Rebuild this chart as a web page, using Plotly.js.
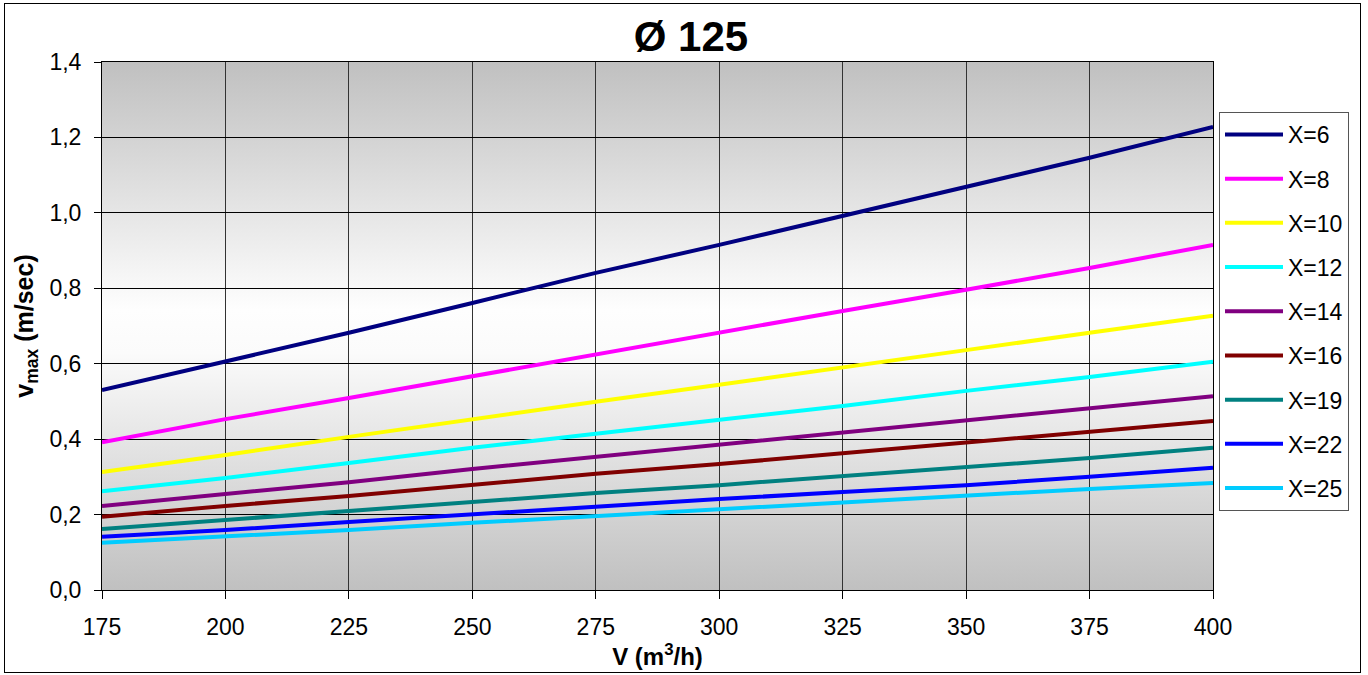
<!DOCTYPE html>
<html>
<head>
<meta charset="utf-8">
<script src="https://cdn.plot.ly/plotly-3.0.1.min.js"></script>
<style>
html,body{margin:0;padding:0;background:#fff;}
#wrap{position:relative;width:1368px;height:675px;}
#chart{width:1368px;height:675px;}
#frame{position:absolute;left:4px;top:3px;width:1355px;height:668px;border:1px solid #000;pointer-events:none;}
</style>
</head>
<body>
<div id="wrap"><div id="chart"></div><div id="frame"></div></div>
<script>
// Data
const flowV = [175, 200, 225, 250, 275, 300, 325, 350, 375, 400];
const seriesNames = ["X=6", "X=8", "X=10", "X=12", "X=14", "X=16", "X=19", "X=22", "X=25"];
const vX6  = [0.530, 0.605, 0.682, 0.761, 0.841, 0.915, 0.992, 1.071, 1.146, 1.228];
const vX8  = [0.392, 0.453, 0.509, 0.567, 0.623, 0.681, 0.740, 0.796, 0.854, 0.915];
const vX10 = [0.313, 0.358, 0.406, 0.453, 0.499, 0.544, 0.589, 0.636, 0.682, 0.727];
const vX12 = [0.262, 0.297, 0.337, 0.377, 0.414, 0.451, 0.488, 0.528, 0.565, 0.605];
const vX14 = [0.223, 0.255, 0.286, 0.321, 0.353, 0.385, 0.416, 0.448, 0.480, 0.514];
const vX16 = [0.194, 0.223, 0.249, 0.278, 0.308, 0.334, 0.363, 0.390, 0.419, 0.448];
const vX19 = [0.162, 0.186, 0.209, 0.233, 0.257, 0.278, 0.302, 0.326, 0.350, 0.377];
const vX22 = [0.141, 0.159, 0.180, 0.201, 0.220, 0.241, 0.260, 0.278, 0.300, 0.324];
const vX25 = [0.125, 0.141, 0.159, 0.178, 0.196, 0.215, 0.231, 0.249, 0.268, 0.284];
const seriesValues = [vX6, vX8, vX10, vX12, vX14, vX16, vX19, vX22, vX25];
const seriesColors = ["#000080", "#ff00ff", "#ffff00", "#00ffff", "#800080", "#800000", "#008080", "#0000ff", "#00ccff"];

const FONT = "Liberation Sans, Arial, sans-serif";

const traces = seriesNames.map((n, i) => ({
  type: "scatter", mode: "lines", name: n, x: flowV, y: seriesValues[i],
  line: {color: seriesColors[i], width: 4}, legendgroup: "g" + i, hoverinfo: "x+y+name"
}));

// background gradient (grey - white - grey)
const gradSvg = '<svg xmlns="http://www.w3.org/2000/svg" width="10" height="100" preserveAspectRatio="none">' +
  '<defs><linearGradient id="g" x1="0" y1="0" x2="0" y2="1">' +
  '<stop offset="0" stop-color="#c0c0c0"/><stop offset="0.47" stop-color="#fefefe"/>' +
  '<stop offset="0.55" stop-color="#fbfbfb"/><stop offset="1" stop-color="#c0c0c0"/>' +
  '</linearGradient></defs><rect width="10" height="100" fill="url(#g)"/></svg>';
const gradUri = "data:image/svg+xml;base64," + btoa(gradSvg);

const layout = {
  width: 1368, height: 675,
  margin: {l: 102, r: 155, t: 62, b: 85},
  paper_bgcolor: "#ffffff", plot_bgcolor: "rgba(0,0,0,0)",
  separators: ",.",
  font: {family: FONT, size: 23, color: "#000"},
  title: {text: "<b>Ø 125</b>", font: {family: FONT, size: 42, color: "#000"},
          x: 691/1368, xref: "container", xanchor: "center", y: 1 - 36/675, yref: "container", yanchor: "middle"},
  xaxis: {
    range: [175, 400], tickvals: flowV, ticktext: flowV.map(String),
    showgrid: true, gridcolor: "#333333", gridwidth: 1,
    showline: true, linecolor: "#000", linewidth: 1, mirror: true,
    ticks: "outside", ticklen: 8, tickcolor: "#000", zeroline: false,
    tickfont: {family: FONT, size: 23}, ticklabelstandoff: 8,
    title: {text: "<b>V (m<sup>3</sup>/h)</b>", font: {family: FONT, size: 24}, standoff: 2}
  },
  yaxis: {
    range: [0, 1.4], dtick: 0.2, tick0: 0, tickformat: ".1f",
    showgrid: true, gridcolor: "#000", gridwidth: 1,
    showline: true, linecolor: "#000", linewidth: 1, mirror: true,
    ticks: "outside", ticklen: 7, tickcolor: "#000", zeroline: false,
    tickfont: {family: FONT, size: 23}, ticklabelstandoff: 8,
    title: {text: "<b>v<sub>max</sub> (m/sec)</b>", font: {family: FONT, size: 25}, standoff: 8}
  },
  legend: {
    x: 1219/1368, xref: "container", xanchor: "left",
    y: 1 - 112/675, yref: "container", yanchor: "top",
    bgcolor: "#ffffff", bordercolor: "#555555", borderwidth: 1,
    font: {family: FONT, size: 23, color: "#000"},
    tracegroupgap: 11.3, itemwidth: 58, traceorder: "grouped", maxheight: 500
  },
  images: [{source: gradUri, xref: "paper", yref: "paper", x: 0, y: 1, sizex: 1, sizey: 1,
            sizing: "stretch", layer: "below", xanchor: "left", yanchor: "top"}],
  showlegend: true
};

Plotly.newPlot("chart", traces, layout, {displayModeBar: false, staticPlot: true});
</script>
</body>
</html>
